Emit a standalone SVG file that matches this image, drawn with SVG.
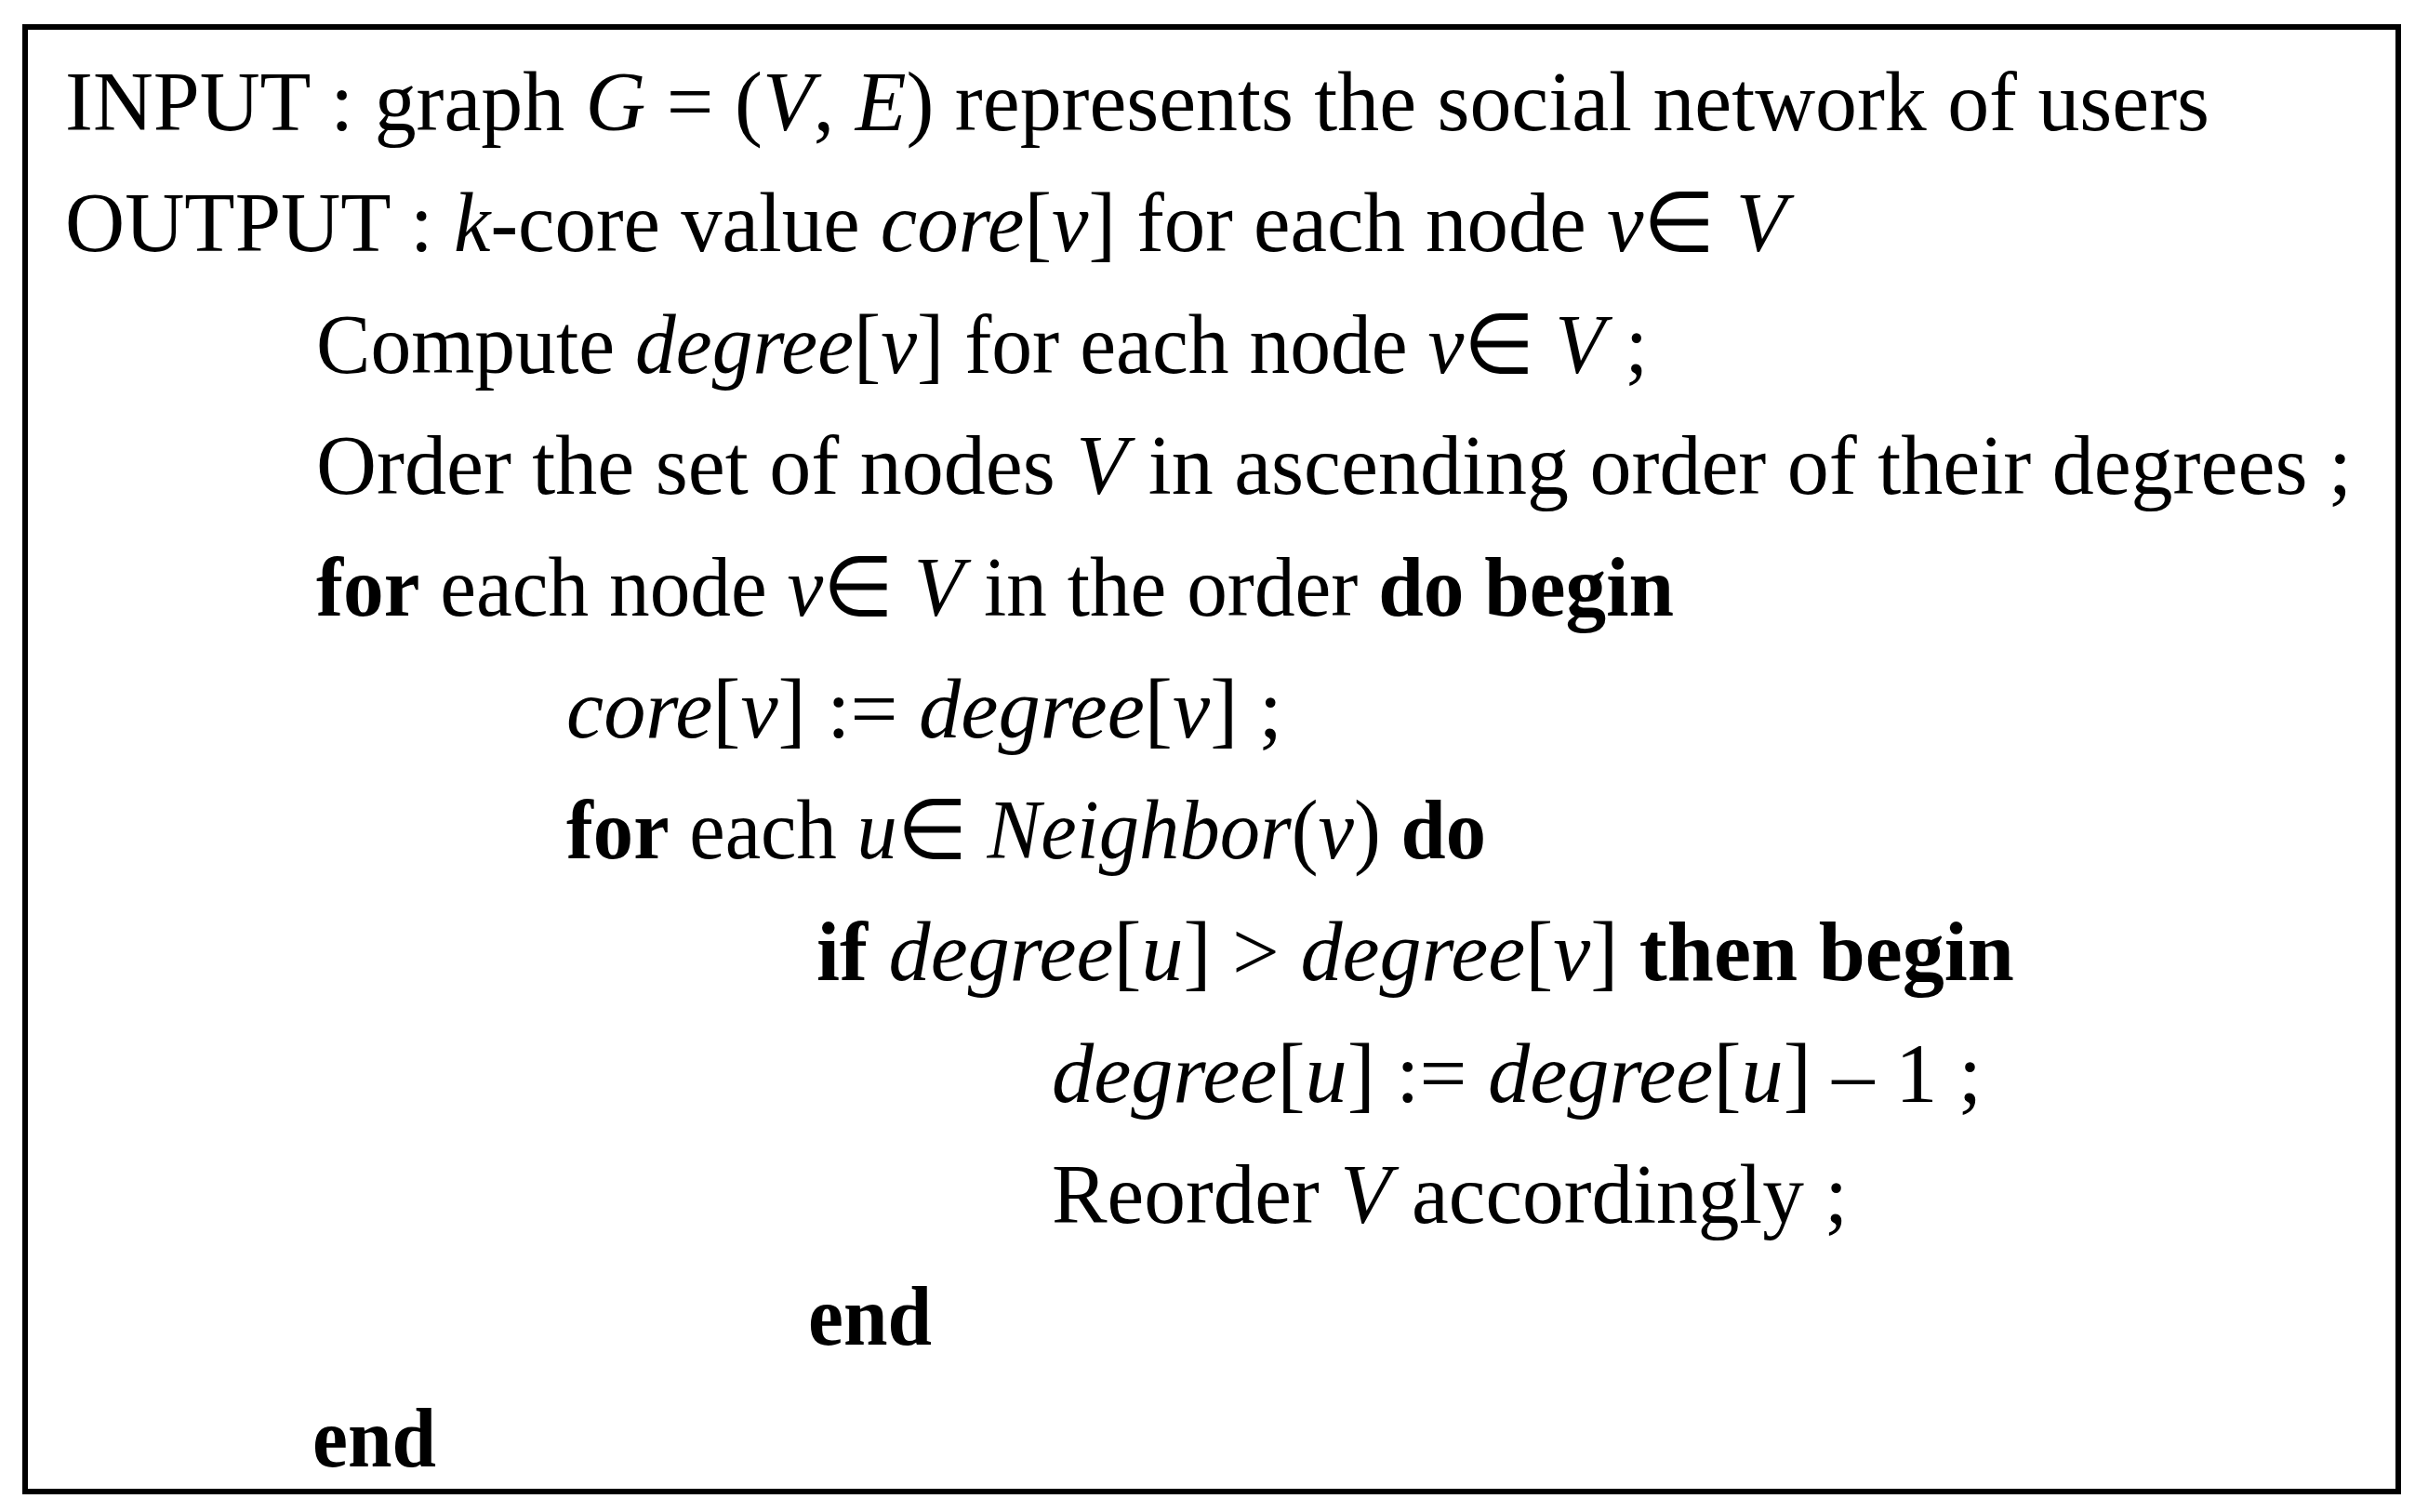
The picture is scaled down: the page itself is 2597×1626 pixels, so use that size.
<svg xmlns="http://www.w3.org/2000/svg" width="2597" height="1626" viewBox="0 0 2597 1626">
<style>
text{font-family:"Liberation Serif","Times New Roman",serif;font-size:90px;fill:#000}
.i{font-style:italic}.b{font-weight:bold}
</style>
<rect width="2597" height="1626" fill="#fff"/>
<g id="frame"><rect x="27" y="29" width="2552" height="1575" fill="none" stroke="#000" stroke-width="6"/></g>
<g id="algorithm">
<text x="70" y="140" textLength="2306" lengthAdjust="spacingAndGlyphs">INPUT : graph <tspan class="i">G</tspan> = (<tspan class="i">V</tspan>, <tspan class="i">E</tspan>) represents the social network of users</text>
<text x="70" y="270" textLength="1851" lengthAdjust="spacingAndGlyphs">OUTPUT : <tspan class="i">k</tspan>-core value <tspan class="i">core</tspan>[<tspan class="i">v</tspan>] for each node <tspan class="i">v</tspan>∈ <tspan class="i">V</tspan></text>
<text x="340" y="401" textLength="1432" lengthAdjust="spacingAndGlyphs">Compute <tspan class="i">degree</tspan>[<tspan class="i">v</tspan>] for each node <tspan class="i">v</tspan>∈ <tspan class="i">V</tspan> ;</text>
<text x="340" y="531" textLength="2189" lengthAdjust="spacingAndGlyphs">Order the set of nodes <tspan class="i">V</tspan> in ascending order of their degrees ;</text>
<text x="340" y="662" textLength="1460" lengthAdjust="spacingAndGlyphs"><tspan class="b">for</tspan> each node <tspan class="i">v</tspan>∈ <tspan class="i">V</tspan> in the order <tspan class="b">do begin</tspan></text>
<text x="609" y="793" textLength="770" lengthAdjust="spacingAndGlyphs"><tspan class="i">core</tspan>[<tspan class="i">v</tspan>] := <tspan class="i">degree</tspan>[<tspan class="i">v</tspan>] ;</text>
<text x="609" y="923" textLength="989" lengthAdjust="spacingAndGlyphs"><tspan class="b">for</tspan> each <tspan class="i">u</tspan>∈ <tspan class="i">Neighbor</tspan>(<tspan class="i">v</tspan>) <tspan class="b">do</tspan></text>
<text x="878" y="1054" textLength="1288" lengthAdjust="spacingAndGlyphs"><tspan class="b">if</tspan> <tspan class="i">degree</tspan>[<tspan class="i">u</tspan>] &gt; <tspan class="i">degree</tspan>[<tspan class="i">v</tspan>] <tspan class="b">then begin</tspan></text>
<text x="1131" y="1185" textLength="1000" lengthAdjust="spacingAndGlyphs"><tspan class="i">degree</tspan>[<tspan class="i">u</tspan>] := <tspan class="i">degree</tspan>[<tspan class="i">u</tspan>] – 1 ;</text>
<text x="1131" y="1315" textLength="856" lengthAdjust="spacingAndGlyphs">Reorder <tspan class="i">V</tspan> accordingly ;</text>
<text x="869" y="1446" class="b" textLength="133" lengthAdjust="spacingAndGlyphs">end</text>
<text x="336" y="1577" class="b" textLength="133" lengthAdjust="spacingAndGlyphs">end</text>
</g>
</svg>
